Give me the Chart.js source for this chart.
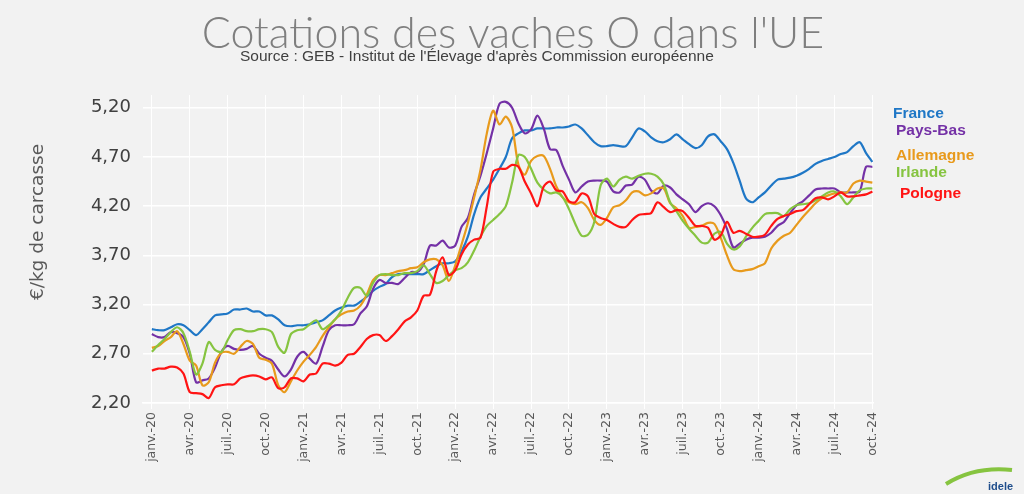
<!DOCTYPE html>
<html>
<head>
<meta charset="utf-8">
<script src="https://cdn.jsdelivr.net/npm/chart.js@4/dist/chart.umd.min.js"></script>
<style>
  html, body { margin: 0; padding: 0; background: #f2f2f2; }
  #wrap { width: 1024px; height: 494px; }
</style>
</head>
<body>
<div id="wrap"><canvas id="lineChart" width="1024" height="494"></canvas></div>
<script>
//data, one value every half month from janv.-20 to oct.-24
var france = [2.95,2.94,2.94,2.97,3.00,2.99,2.94,2.89,2.95,3.02,
  3.09,3.10,3.11,3.15,3.15,3.16,3.13,3.13,3.09,3.09,
  3.05,2.99,2.98,2.99,2.99,3.00,3.02,3.04,3.09,3.14,
  3.17,3.19,3.19,3.23,3.28,3.34,3.38,3.41,3.48,3.51,
  3.51,3.51,3.51,3.51,3.55,3.59,3.62,3.62,3.64,3.74,
  3.89,4.12,4.29,4.38,4.47,4.58,4.70,4.89,4.94,4.97,
  4.97,4.99,4.99,4.99,5.00,5.00,5.01,5.03,4.99,4.92,
  4.85,4.81,4.81,4.82,4.81,4.81,4.90,4.99,4.96,4.90,
  4.86,4.85,4.88,4.93,4.88,4.83,4.79,4.82,4.91,4.93,
  4.86,4.78,4.64,4.46,4.28,4.24,4.29,4.34,4.41,4.47,
  4.48,4.49,4.51,4.54,4.58,4.63,4.66,4.68,4.70,4.73,
  4.75,4.81,4.85,4.74,4.65];
var paysBas = [2.90,2.87,2.87,2.92,2.91,2.87,2.70,2.41,2.43,2.45,
  2.56,2.72,2.78,2.75,2.74,2.75,2.78,2.70,2.66,2.63,
  2.54,2.47,2.54,2.67,2.72,2.65,2.60,2.77,2.94,2.99,
  2.99,2.99,3.00,3.11,3.18,3.36,3.45,3.42,3.42,3.41,
  3.47,3.53,3.53,3.61,3.80,3.80,3.85,3.78,3.80,3.99,
  4.08,4.32,4.51,4.74,4.99,5.24,5.26,5.20,5.04,4.94,
  4.98,5.12,4.99,4.78,4.77,4.61,4.47,4.34,4.40,4.45,
  4.46,4.46,4.45,4.35,4.34,4.41,4.42,4.50,4.47,4.36,
  4.33,4.41,4.39,4.32,4.27,4.22,4.14,4.20,4.23,4.20,
  4.11,3.97,3.78,3.82,3.86,3.88,3.88,3.89,3.93,4.00,
  4.04,4.13,4.21,4.25,4.31,4.37,4.38,4.38,4.38,4.34,
  4.34,4.34,4.35,4.60,4.60];
var allemagne = [2.76,2.78,2.83,2.87,2.93,2.80,2.63,2.58,2.38,2.41,
  2.61,2.71,2.72,2.70,2.77,2.83,2.80,2.66,2.64,2.60,
  2.38,2.31,2.42,2.53,2.62,2.69,2.77,2.88,2.97,3.05,
  3.10,3.13,3.14,3.19,3.30,3.45,3.50,3.50,3.52,3.54,
  3.55,3.57,3.58,3.63,3.66,3.66,3.60,3.44,3.60,3.81,
  4.03,4.29,4.57,4.94,5.17,5.03,5.11,5.00,4.62,4.52,
  4.66,4.71,4.71,4.58,4.40,4.29,4.24,4.22,4.24,4.18,
  4.06,4.01,4.08,4.19,4.21,4.26,4.34,4.35,4.31,4.33,
  4.38,4.38,4.23,4.18,4.10,3.98,3.99,4.00,4.03,4.02,
  3.88,3.70,3.56,3.54,3.55,3.56,3.59,3.62,3.77,3.85,
  3.90,3.93,4.01,4.09,4.16,4.23,4.28,4.31,4.33,4.34,
  4.34,4.43,4.46,4.45,4.44];
var irlande = [2.72,2.79,2.85,2.92,2.97,2.91,2.72,2.49,2.60,2.82,
  2.74,2.72,2.84,2.94,2.95,2.93,2.93,2.95,2.95,2.92,
  2.77,2.71,2.90,2.94,2.95,3.00,3.04,2.95,2.99,3.05,
  3.14,3.27,3.37,3.37,3.29,3.42,3.50,3.51,3.50,3.50,
  3.52,3.52,3.54,3.60,3.51,3.42,3.44,3.50,3.55,3.57,
  3.63,3.75,3.89,4.00,4.06,4.12,4.20,4.44,4.72,4.70,
  4.58,4.44,4.37,4.33,4.34,4.29,4.17,4.02,3.90,3.91,
  4.04,4.41,4.48,4.40,4.47,4.50,4.48,4.51,4.53,4.53,
  4.50,4.42,4.24,4.15,4.05,3.97,3.90,3.83,3.83,3.92,
  3.94,3.82,3.76,3.79,3.89,3.98,4.05,4.12,4.13,4.13,
  4.10,4.17,4.21,4.22,4.23,4.26,4.30,4.34,4.35,4.30,
  4.22,4.29,4.36,4.38,4.38];
var pologne = [2.53,2.55,2.55,2.57,2.56,2.50,2.31,2.30,2.29,2.25,
  2.36,2.38,2.39,2.39,2.45,2.47,2.48,2.47,2.44,2.46,
  2.35,2.36,2.45,2.45,2.42,2.49,2.50,2.60,2.60,2.58,
  2.61,2.69,2.70,2.77,2.85,2.89,2.89,2.83,2.88,2.95,
  3.03,3.07,3.14,3.29,3.30,3.54,3.68,3.50,3.55,3.71,
  3.81,3.86,3.88,4.20,4.55,4.58,4.58,4.62,4.60,4.45,
  4.33,4.20,4.40,4.45,4.36,4.35,4.25,4.24,4.33,4.30,
  4.12,4.08,4.06,4.02,3.99,3.99,4.06,4.11,4.12,4.13,
  4.24,4.19,4.14,4.16,4.15,4.08,4.00,4.00,3.98,3.86,
  3.90,4.04,3.93,3.95,3.92,3.89,3.89,3.91,4.00,4.07,
  4.10,4.12,4.15,4.16,4.22,4.28,4.29,4.27,4.30,4.34,
  4.30,4.30,4.31,4.32,4.35];

var seriesNames = ["France", "Pays-Bas", "Allemagne", "Irlande", "Pologne"];
var seriesColors = ["#1f77c6", "#7431a6", "#e89a1c", "#86c440", "#ff1414"];
//quarterly tick labels, one every 3 months
var tickLabels = ["janv.-20","avr.-20","juil.-20","oct.-20","janv.-21","avr.-21","juil.-21","oct.-21",
  "janv.-22","avr.-22","juil.-22","oct.-22","janv.-23","avr.-23","juil.-23","oct.-23",
  "janv.-24","avr.-24","juil.-24","oct.-24"];
var yTicks = [2.20, 2.70, 3.20, 3.70, 4.20, 4.70, 5.20];

function toPoints(arr) {
  var pts = [];
  for (var i = 0; i < arr.length; i++) {
    pts.push({x: i / 2, y: arr[i]});   // x in months since janv.-20
  }
  return pts;
}

var allSeries = [france, paysBas, allemagne, irlande, pologne];
var datasets = [];
for (var s = 0; s < allSeries.length; s++) {
  datasets.push({
    label: seriesNames[s],
    data: toPoints(allSeries[s]),
    borderColor: seriesColors[s],
    backgroundColor: seriesColors[s],
    borderWidth: 2.2,
    pointRadius: 0,
    tension: 0.3,
    order: 5 - s
  });
}

//title, source, axis title, coloured names on the right and the logo text
var decorations = {
  id: "decorations",
  afterDraw: function(chart) {
    var ctx = chart.ctx;
    ctx.save();
    ctx.textBaseline = "alphabetic";
    ctx.fillStyle = "#7f7f7f";
    ctx.font = "300 43px Lato, 'DejaVu Sans', sans-serif";
    ctx.textAlign = "center";
    ctx.fillText("Cotations des vaches O dans l'UE", 513, 48);
    ctx.fillStyle = "#404040";
    ctx.font = "15.5px 'Liberation Sans Narrow', 'Liberation Sans', sans-serif";
    ctx.textAlign = "left";
    ctx.fillText("Source : GEB - Institut de l'\u00c9levage d'apr\u00e8s Commission europ\u00e9enne", 240, 61);

    //y axis title
    ctx.save();
    ctx.translate(38, 222);
    ctx.rotate(-Math.PI / 2);
    ctx.textAlign = "center";
    ctx.textBaseline = "middle";
    ctx.fillStyle = "#595959";
    ctx.font = "18.5px 'DejaVu Sans', sans-serif";
    ctx.fillText("\u20ac/kg de carcasse", 0, 0);
    ctx.restore();

    var nameX = [893, 896, 896, 896, 900];
    var nameY = [118, 135, 160, 177, 198];
    ctx.font = "bold 15.5px 'Liberation Sans', Arial, sans-serif";
    for (var i = 0; i < seriesNames.length; i++) {
      ctx.fillStyle = seriesColors[i];
      ctx.fillText(seriesNames[i], nameX[i], nameY[i]);
    }

    //logo
    ctx.strokeStyle = "#86c440";
    ctx.lineWidth = 4;
    ctx.beginPath();
    ctx.moveTo(946, 484);
    ctx.quadraticCurveTo(975, 466, 1012, 470);
    ctx.stroke();
    ctx.fillStyle = "#1f4e8c";
    ctx.font = "bold 11px 'Liberation Sans', Arial, sans-serif";
    ctx.fillText("idele", 988, 490);
    ctx.restore();
  }
};

var ctxL = document.getElementById("lineChart").getContext("2d");
var myLineChart = new Chart(ctxL, {
  type: "line",
  data: { datasets: datasets },
  options: {
    responsive: false,
    animation: false,
    layout: { padding: { top: 95, right: 151, left: 0, bottom: 0 } },
    plugins: {
      legend: { display: false },
      tooltip: { enabled: false }
    },
    scales: {
      x: {
        type: "linear",
        min: -0.7,
        max: 57.05,
        afterBuildTicks: function(scale) {
          scale.ticks = tickLabels.map(function(l, i) { return {value: i * 3}; });
        },
        afterFit: function(scale) { scale.height = 91; },
        ticks: {
          autoSkip: false,
          minRotation: 90,
          maxRotation: 90,
          color: "#595959",
          font: { family: "'DejaVu Sans', sans-serif", size: 12.5 },
          padding: 3,
          callback: function(v) { return tickLabels[Math.round(v / 3)]; }
        },
        grid: { color: "#ffffff", lineWidth: 1, tickLength: 6 },
        border: { color: "#ffffff", width: 1.5 }
      },
      y: {
        min: 2.2,
        max: 5.33,
        afterBuildTicks: function(scale) {
          scale.ticks = yTicks.map(function(v) { return {value: v}; });
        },
        afterFit: function(scale) { scale.width = 143; },
        ticks: {
          color: "#404040",
          font: { family: "'DejaVu Sans', sans-serif", size: 18 },
          padding: 12,
          callback: function(v) { return v.toFixed(2).replace(".", ","); }
        },
        grid: { color: "#ffffff", lineWidth: 1.5, drawTicks: false },
        border: { display: false }
      }
    }
  },
  plugins: [decorations]
});
</script>
</body>
</html>
